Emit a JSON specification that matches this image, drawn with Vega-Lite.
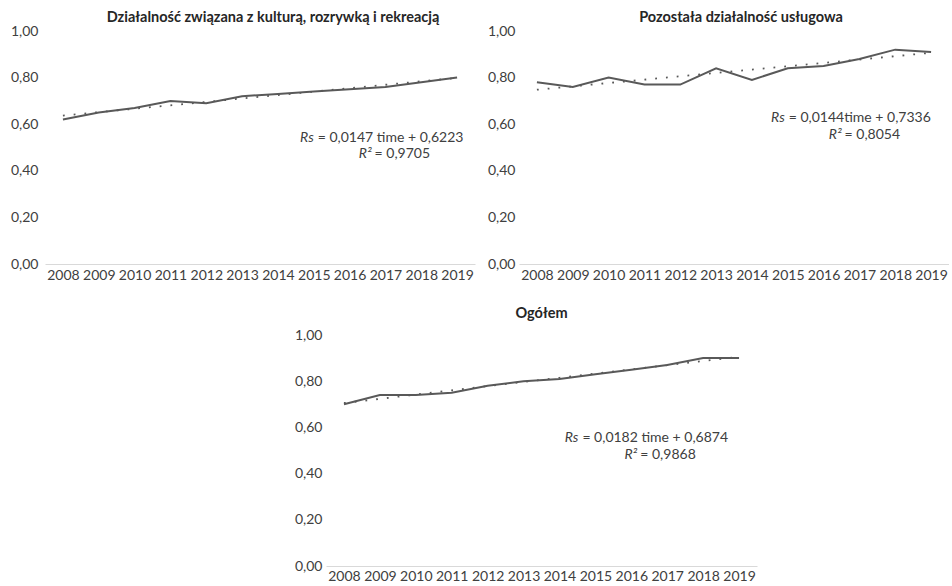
{
  "$schema": "https://vega.github.io/schema/vega-lite/v6.json",
  "background": "white",
  "padding": {"left": 10, "top": 9, "right": 0, "bottom": 0},
  "datasets": {
    "rs": [
      {"panel": "kultura", "year": "2008", "rs": 0.62, "trend": 0.6370},
      {"panel": "kultura", "year": "2009", "rs": 0.65, "trend": 0.6517},
      {"panel": "kultura", "year": "2010", "rs": 0.67, "trend": 0.6664},
      {"panel": "kultura", "year": "2011", "rs": 0.70, "trend": 0.6811},
      {"panel": "kultura", "year": "2012", "rs": 0.69, "trend": 0.6958},
      {"panel": "kultura", "year": "2013", "rs": 0.72, "trend": 0.7105},
      {"panel": "kultura", "year": "2014", "rs": 0.73, "trend": 0.7252},
      {"panel": "kultura", "year": "2015", "rs": 0.74, "trend": 0.7399},
      {"panel": "kultura", "year": "2016", "rs": 0.75, "trend": 0.7546},
      {"panel": "kultura", "year": "2017", "rs": 0.76, "trend": 0.7693},
      {"panel": "kultura", "year": "2018", "rs": 0.78, "trend": 0.7840},
      {"panel": "kultura", "year": "2019", "rs": 0.80, "trend": 0.7987},
      {"panel": "uslugi", "year": "2008", "rs": 0.78, "trend": 0.7480},
      {"panel": "uslugi", "year": "2009", "rs": 0.76, "trend": 0.7624},
      {"panel": "uslugi", "year": "2010", "rs": 0.80, "trend": 0.7768},
      {"panel": "uslugi", "year": "2011", "rs": 0.77, "trend": 0.7912},
      {"panel": "uslugi", "year": "2012", "rs": 0.77, "trend": 0.8056},
      {"panel": "uslugi", "year": "2013", "rs": 0.84, "trend": 0.8200},
      {"panel": "uslugi", "year": "2014", "rs": 0.79, "trend": 0.8344},
      {"panel": "uslugi", "year": "2015", "rs": 0.84, "trend": 0.8488},
      {"panel": "uslugi", "year": "2016", "rs": 0.85, "trend": 0.8632},
      {"panel": "uslugi", "year": "2017", "rs": 0.88, "trend": 0.8776},
      {"panel": "uslugi", "year": "2018", "rs": 0.92, "trend": 0.8920},
      {"panel": "uslugi", "year": "2019", "rs": 0.91, "trend": 0.9064},
      {"panel": "ogolem", "year": "2008", "rs": 0.70, "trend": 0.7056},
      {"panel": "ogolem", "year": "2009", "rs": 0.74, "trend": 0.7238},
      {"panel": "ogolem", "year": "2010", "rs": 0.74, "trend": 0.7420},
      {"panel": "ogolem", "year": "2011", "rs": 0.75, "trend": 0.7602},
      {"panel": "ogolem", "year": "2012", "rs": 0.78, "trend": 0.7784},
      {"panel": "ogolem", "year": "2013", "rs": 0.80, "trend": 0.7966},
      {"panel": "ogolem", "year": "2014", "rs": 0.81, "trend": 0.8148},
      {"panel": "ogolem", "year": "2015", "rs": 0.83, "trend": 0.8330},
      {"panel": "ogolem", "year": "2016", "rs": 0.85, "trend": 0.8512},
      {"panel": "ogolem", "year": "2017", "rs": 0.87, "trend": 0.8694},
      {"panel": "ogolem", "year": "2018", "rs": 0.90, "trend": 0.8876},
      {"panel": "ogolem", "year": "2019", "rs": 0.90, "trend": 0.9058}
    ]
  },
  "vconcat": [
    {
      "spacing": 12,
      "hconcat": [
        {
          "width": 430,
          "height": 233,
          "title": {"text": "Działalność związana z kulturą, rozrywką i rekreacją", "dx": 13, "offset": -1},
          "data": {"name": "rs"},
          "transform": [{"filter": "datum.panel === 'kultura'"}],
          "encoding": {
            "x": {"field": "year", "type": "ordinal", "scale": {"type": "point", "padding": 0.5},
                  "axis": {"labelAngle": 0, "domain": true, "domainColor": "#d9d9d9", "labelPadding": 4}},
            "y": {"type": "quantitative", "scale": {"domain": [0, 1], "nice": false},
                  "axis": {"values": [0, 0.2, 0.4, 0.6, 0.8, 1], "domain": false, "labelPadding": 7,
                           "labelExpr": "replace(format(datum.value, '.2f'), '.', ',')"}}
          },
          "layer": [
            {"mark": {"type": "line", "color": "#595959", "strokeWidth": 2}, "encoding": {"y": {"field": "rs"}}},
            {"mark": {"type": "line", "color": "#595959", "strokeWidth": 1.8, "strokeDash": [1.8, 9]}, "encoding": {"y": {"field": "trend"}}},
            {"data": {"values": [{}]}, "mark": {"type": "text", "text": "Rs", "fontStyle": "italic", "align": "right", "baseline": "middle", "fontSize": 14, "color": "#404040", "dx": 0},
             "encoding": {"x": {"datum": "2015"}, "y": {"datum": 0.541}}},
            {"data": {"values": [{}]}, "mark": {"type": "text", "text": "= 0,0147 time + 0,6223", "align": "left", "baseline": "middle", "fontSize": 14, "color": "#404040", "dx": 4},
             "encoding": {"x": {"datum": "2015"}, "y": {"datum": 0.541}}},
            {"data": {"values": [{}]}, "mark": {"type": "text", "text": "R²", "fontStyle": "italic", "align": "right", "baseline": "middle", "fontSize": 14, "color": "#404040", "dx": 22},
             "encoding": {"x": {"datum": "2016"}, "y": {"datum": 0.472}}},
            {"data": {"values": [{}]}, "mark": {"type": "text", "text": "= 0,9705", "align": "left", "baseline": "middle", "fontSize": 14, "color": "#404040", "dx": 25},
             "encoding": {"x": {"datum": "2016"}, "y": {"datum": 0.472}}}
          ]
        },
        {
          "width": 430,
          "height": 233,
          "title": {"text": "Pozostała działalność usługowa", "dx": 7, "offset": -1},
          "data": {"name": "rs"},
          "transform": [{"filter": "datum.panel === 'uslugi'"}],
          "encoding": {
            "x": {"field": "year", "type": "ordinal", "scale": {"type": "point", "padding": 0.5},
                  "axis": {"labelAngle": 0, "domain": true, "domainColor": "#d9d9d9", "labelPadding": 4}},
            "y": {"type": "quantitative", "scale": {"domain": [0, 1], "nice": false},
                  "axis": {"values": [0, 0.2, 0.4, 0.6, 0.8, 1], "domain": false, "labelPadding": 4,
                           "labelExpr": "replace(format(datum.value, '.2f'), '.', ',')"}}
          },
          "layer": [
            {"mark": {"type": "line", "color": "#595959", "strokeWidth": 2}, "encoding": {"y": {"field": "rs"}}},
            {"mark": {"type": "line", "color": "#595959", "strokeWidth": 1.8, "strokeDash": [1.8, 9]}, "encoding": {"y": {"field": "trend"}}},
            {"data": {"values": [{}]}, "mark": {"type": "text", "text": "Rs", "fontStyle": "italic", "align": "right", "baseline": "middle", "fontSize": 14, "color": "#404040", "dx": -3},
             "encoding": {"x": {"datum": "2015"}, "y": {"datum": 0.625}}},
            {"data": {"values": [{}]}, "mark": {"type": "text", "text": "= 0,0144time + 0,7336", "align": "left", "baseline": "middle", "fontSize": 14, "color": "#404040", "dx": 1},
             "encoding": {"x": {"datum": "2015"}, "y": {"datum": 0.625}}},
            {"data": {"values": [{}]}, "mark": {"type": "text", "text": "R²", "fontStyle": "italic", "align": "right", "baseline": "middle", "fontSize": 14, "color": "#404040", "dx": 18},
             "encoding": {"x": {"datum": "2016"}, "y": {"datum": 0.552}}},
            {"data": {"values": [{}]}, "mark": {"type": "text", "text": "= 0,8054", "align": "left", "baseline": "middle", "fontSize": 14, "color": "#404040", "dx": 21},
             "encoding": {"x": {"datum": "2016"}, "y": {"datum": 0.552}}}
          ]
        }
      ]
    },
    {
      "spacing": 0,
      "hconcat": [
        {"width": 249, "height": 10, "data": {"values": []}, "mark": "point"},
        {
          "width": 431,
          "height": 231,
          "title": {"text": "Ogółem", "offset": 7},
          "data": {"name": "rs"},
          "transform": [{"filter": "datum.panel === 'ogolem'"}],
          "encoding": {
            "x": {"field": "year", "type": "ordinal", "scale": {"type": "point", "padding": 0.5},
                  "axis": {"labelAngle": 0, "domain": true, "domainColor": "#d9d9d9", "labelPadding": 3}},
            "y": {"type": "quantitative", "scale": {"domain": [0, 1], "nice": false},
                  "axis": {"values": [0, 0.2, 0.4, 0.6, 0.8, 1], "domain": false, "labelPadding": 4,
                           "labelExpr": "replace(format(datum.value, '.2f'), '.', ',')"}}
          },
          "layer": [
            {"mark": {"type": "line", "color": "#595959", "strokeWidth": 2}, "encoding": {"y": {"field": "rs"}}},
            {"mark": {"type": "line", "color": "#595959", "strokeWidth": 1.8, "strokeDash": [1.8, 9]}, "encoding": {"y": {"field": "trend"}}},
            {"data": {"values": [{}]}, "mark": {"type": "text", "text": "Rs", "fontStyle": "italic", "align": "right", "baseline": "middle", "fontSize": 14, "color": "#404040", "dx": -17},
             "encoding": {"x": {"datum": "2015"}, "y": {"datum": 0.555}}},
            {"data": {"values": [{}]}, "mark": {"type": "text", "text": "= 0,0182 time + 0,6874", "align": "left", "baseline": "middle", "fontSize": 14, "color": "#404040", "dx": -13},
             "encoding": {"x": {"datum": "2015"}, "y": {"datum": 0.555}}},
            {"data": {"values": [{}]}, "mark": {"type": "text", "text": "R²", "fontStyle": "italic", "align": "right", "baseline": "middle", "fontSize": 14, "color": "#404040", "dx": 6},
             "encoding": {"x": {"datum": "2016"}, "y": {"datum": 0.479}}},
            {"data": {"values": [{}]}, "mark": {"type": "text", "text": "= 0,9868", "align": "left", "baseline": "middle", "fontSize": 14, "color": "#404040", "dx": 9},
             "encoding": {"x": {"datum": "2016"}, "y": {"datum": 0.479}}}
          ]
        }
      ]
    }
  ],
  "spacing": 23,
  "config": {
    "view": {"stroke": null},
    "font": "Lato",
    "axis": {"labelFont": "Lato", "labelFontSize": 14, "labelColor": "#404040", "grid": false, "ticks": false, "title": null},
    "title": {"font": "Lato", "fontSize": 14.5, "fontWeight": "bold", "color": "#262626", "anchor": "middle"},
    "text": {"font": "Lato"}
  }
}
